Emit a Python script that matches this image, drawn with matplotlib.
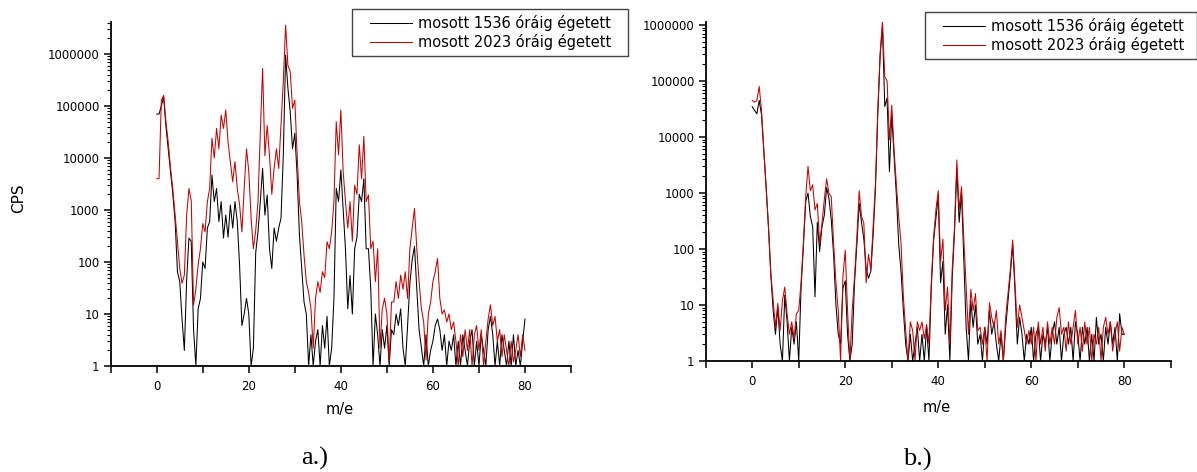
import numpy as np
import matplotlib
matplotlib.use("Agg")
import matplotlib.pyplot as plt
from matplotlib.ticker import FixedLocator, FuncFormatter, NullFormatter
from matplotlib.legend_handler import HandlerLine2D

MASS_START = 0.0
MASS_STEP = 0.5

SERIES_LABELS = ["mosott 1536 óráig égetett", "mosott 2023 óráig égetett"]
PANEL_TAGS = ["a.)", "b.)"]

# panel a.) -- 1536 h (black)
a_1536 = [
    70000, 70000, 100000, 150000, 40000, 15000, 5500, 2000, 600, 65,
    42, 8, 2, 45, 290, 250, 5, 1, 12.6, 20,
    100, 75, 450, 600, 4700, 1450, 2600, 600, 1450, 290,
    800, 300, 1250, 450, 1450, 600, 87, 6, 10, 20,
    10, 1, 2.2, 150, 380, 1450, 6300, 800, 1950, 180,
    75, 450, 250, 450, 700, 11500, 950000, 220000, 78000, 15000,
    30000, 4700, 330, 75, 17, 10, 1, 4, 1, 3,
    5, 1, 6, 2.2, 9, 1, 2.2, 20, 2600, 1450,
    5900, 1000, 180, 12.6, 55, 10, 180, 300, 2000, 1450,
    4000, 180, 180, 30, 1, 10, 4, 1, 5, 2.2,
    6, 1, 5, 4, 10, 6, 12.6, 2.2, 1, 6,
    40, 110, 200, 30, 5, 2.2, 1, 4, 1, 2,
    3, 6, 8, 5, 2, 4, 1, 3, 2, 4,
    1, 3, 1, 4, 2, 1, 3, 5, 1, 3,
    1, 4, 2, 1, 5, 9, 4, 1, 3, 1,
    4, 2, 1, 3, 1, 4, 1, 2, 1, 3,
    8,
]

# panel a.) -- 2023 h (red)
a_2023 = [
    4000, 4000, 130000, 160000, 50000, 20000, 6300, 2500, 800, 250,
    75, 39, 56, 800, 2600, 1500, 15, 30, 90, 180,
    550, 380, 1450, 2600, 24000, 10000, 37000, 15000, 67000, 37000,
    84000, 20000, 8500, 3500, 8500, 2600, 1250, 380, 2600, 15000,
    5500, 700, 180, 400, 1450, 30000, 530000, 11000, 42000, 11000,
    2000, 6300, 15000, 6300, 42000, 300000, 3600000, 600000, 460000, 90000,
    130000, 11500, 1450, 600, 135, 42, 26, 12.6, 2.2, 20,
    42, 26, 65, 50, 245, 180, 380, 1450, 50000, 11500,
    84000, 5500, 1450, 450, 1450, 250, 3000, 2000, 18000, 4000,
    26000, 1450, 1950, 180, 250, 42, 180, 2.2, 12.6, 20,
    10, 1.2, 17, 17, 42, 20, 56, 30, 65, 20,
    180, 450, 1070, 180, 42, 12.6, 7, 1.3, 10, 17,
    42, 65, 117, 20, 10, 12, 7, 10, 5, 7,
    3, 1, 4, 1.5, 5, 2, 5, 1, 4, 6,
    2, 5, 1, 3, 8, 15, 6, 9, 3, 5,
    1.5, 4, 2, 1, 3, 1.2, 2, 4, 1.5, 4,
    2,
]

# panel b.) -- 1536 h (black)
b_1536 = [
    35000, 30000, 26000, 45000, 25000, 5500, 1200, 240, 35, 8,
    3, 9, 2, 1, 15, 5, 1, 4, 2, 5,
    1, 20, 110, 700, 1000, 380, 250, 14, 300, 90,
    250, 400, 1250, 800, 330, 80, 10, 3, 2, 20,
    27, 3, 1, 2, 25, 120, 650, 300, 150, 45,
    30, 40, 180, 1200, 25000, 280000, 950000, 35000, 50000, 2400,
    25000, 4500, 900, 120, 40, 8, 2, 1, 3, 1,
    2, 4, 1, 3, 1, 4, 1, 20, 140, 350,
    900, 25, 60, 3, 10, 1, 30, 200, 2800, 300,
    1000, 60, 4, 1, 12, 4, 10, 2, 3, 1,
    4, 2, 8, 3, 5, 2, 1, 3, 1, 4,
    12, 35, 120, 18, 2, 6, 3, 1, 3, 2,
    4, 1, 3, 4, 1, 3, 2, 4, 1, 3,
    5, 2, 4, 1, 3, 4, 2, 4, 1, 5,
    3, 1, 4, 2, 4, 1, 3, 1, 6, 2,
    3, 1, 4, 2, 5, 2, 4, 1, 7, 3,
    3,
]

# panel b.) -- 2023 h (red)
b_2023 = [
    45000, 42000, 45000, 80000, 30000, 5900, 1300, 250, 37, 12.3,
    4, 10.7, 3.5, 12, 21, 7, 3, 5, 2.5, 7,
    8, 25, 125, 850, 3000, 1100, 1400, 500, 650, 125,
    290, 760, 1800, 1000, 850, 125, 25, 8, 1, 32,
    95, 8, 1, 8, 32, 165, 1100, 380, 290, 25,
    80, 43, 250, 1500, 30000, 310000, 1150000, 120000, 100000, 9000,
    37000, 5900, 1400, 380, 125, 14, 3.5, 1, 5, 3.5,
    1, 5, 3.5, 5, 2.5, 4.5, 2, 25, 165, 500,
    1100, 60, 150, 8, 21, 2, 43, 250, 3900, 500,
    1300, 145, 21, 3, 19, 8, 16, 3.5, 4, 2,
    4, 1, 11, 6, 4, 8, 2, 3.5, 1, 6,
    16, 43, 145, 25, 4, 10, 6, 3.5, 2, 3.5,
    2, 4, 1, 5, 2, 4, 1.5, 5, 2, 4,
    2, 6, 9, 3, 4, 1.5, 5, 2, 4, 8,
    2, 4, 1.5, 5, 2, 4, 1, 3, 2, 4,
    1, 4, 6, 3, 5, 1.5, 3, 5, 1.5, 4,
    3,
]

X_MAJOR = [0, 20, 40, 60, 80]
X_MINOR = [-10, 10, 30, 50, 70, 90]
Y_MAJOR = [1, 10, 100, 1000, 10000, 100000, 1000000]
Y_MINOR_SUBS = [2, 3, 4, 5, 6, 7, 8, 9]

# ---------------- figure ----------------
plt.rcParams['font.family'] = ['DejaVu Sans']
W, H = 1197, 472
fig = plt.figure(figsize=(W / 100, H / 100), dpi=100)

def px_rect(x0, y0, x1, y1):
    return [x0 / W, 1 - y1 / H, (x1 - x0) / W, (y1 - y0) / H]

BLACK = '#000000'
RED = '#cc0000'

panels = [
    dict(rect=px_rect(110.7, 22.3, 571.0, 366.0), data=(a_1536, a_2023), ytop=10 ** 6.61,
         ylabel='CPS', xl=(0.498, -0.128), yl=(-0.201, 0.489),
         leg=(352, 9, 276, 48), tag=(315, 458)),
    dict(rect=px_rect(705.7, 21.7, 1170.8, 361.0), data=(b_1536, b_2023), ytop=10 ** 6.06,
         ylabel=None, xl=(0.497, -0.136), yl=None,
         leg=(924.5, 12, 272, 48), tag=(917.6, 459)),
]

y_minor = [d * s for d in Y_MAJOR for s in Y_MINOR_SUBS]

for p, tag in zip(panels, PANEL_TAGS):
    ax = fig.add_axes(p['rect'])
    s1536, s2023 = p['data']
    mass = MASS_START + MASS_STEP * np.arange(len(s1536))
    ax.plot(mass, s1536, color=BLACK, lw=0.75, label=SERIES_LABELS[0])
    ax.plot(mass, s2023, color=RED, lw=0.75, label=SERIES_LABELS[1])
    ax.set_yscale('log')
    ax.set_xlim(-10, 90)
    ax.set_ylim(1, p['ytop'])

    for side in ('top', 'right'):
        ax.spines[side].set_visible(False)
    for side in ('left', 'bottom'):
        ax.spines[side].set_linewidth(1.3)

    ax.xaxis.set_major_locator(FixedLocator(X_MAJOR))
    ax.xaxis.set_minor_locator(FixedLocator(X_MINOR))
    ax.yaxis.set_major_locator(FixedLocator(Y_MAJOR))
    ax.yaxis.set_major_formatter(FuncFormatter(lambda v, pos: f"{int(round(v))}"))
    ax.yaxis.set_minor_locator(FixedLocator([v for v in y_minor if v < p['ytop']]))
    ax.yaxis.set_minor_formatter(NullFormatter())
    ax.tick_params(axis='x', which='both', direction='out', length=5, width=1.1,
                   labelsize=8.5, pad=5)
    ax.tick_params(axis='y', which='major', direction='out', length=5, width=1.1,
                   labelsize=8.5, pad=3)
    ax.tick_params(axis='y', which='minor', direction='out', length=3, width=0.8)

    ax.set_xlabel('m/e', fontsize=10.5)
    ax.xaxis.label.set_va('center')
    ax.xaxis.set_label_coords(*p['xl'])
    if p['ylabel']:
        ax.set_ylabel(p['ylabel'], fontsize=11)
        ax.yaxis.label.set_va('center')
        ax.yaxis.set_label_coords(*p['yl'])

    lx, ly, lw_, lh = p['leg']
    fs = 10.5 * 100 / 72
    leg = ax.legend(loc='upper left',
                    bbox_to_anchor=(lx / W, 1 - (ly + lh) / H, lw_ / W, lh / H),
                    bbox_transform=fig.transFigure, mode='expand', borderaxespad=0,
                    fontsize=10.5, frameon=True, fancybox=False, framealpha=1,
                    borderpad=0.4, labelspacing=0.2,
                    handlelength=(42 + 12.2) / fs, handletextpad=0.41,
                    handler_map={plt.Line2D: HandlerLine2D(xpad=12.2 / fs)})
    leg.get_frame().set_edgecolor('#444444')
    leg.get_frame().set_linewidth(1.0)

    fig.text(p['tag'][0] / W, 1 - p['tag'][1] / H, tag, ha='center', va='center',
             fontsize=19, family=['Liberation Serif', 'DejaVu Serif'])

fig.savefig('out.png', dpi=100)
